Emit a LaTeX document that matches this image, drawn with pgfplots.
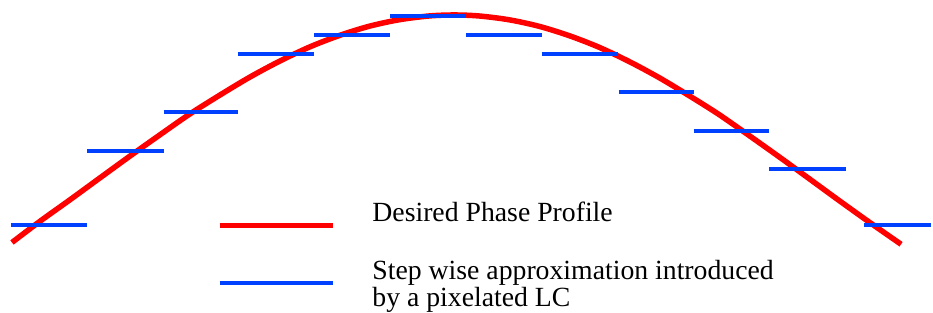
\documentclass[border=0pt]{standalone}
\usepackage{fontspec}
\setmainfont{Liberation Serif}
\newfontfamily\tnr{Liberation Serif}
\usepackage{pgfplots}
\pgfplotsset{compat=1.18}
\definecolor{cred}{RGB}{255,0,0}
\definecolor{cblue}{RGB}{0,64,255}
\begin{document}
\begin{tikzpicture}
\begin{axis}[
  x=1pt, y=1pt, y dir=reverse,
  xmin=0, xmax=933, ymin=0, ymax=313,
  hide axis, clip=false,
  unbounded coords=jump,
]
\addplot[draw=none, forget plot] coordinates {(0,0) (933,313)};
% desired phase profile
\addplot[cred, line width=5.5pt, smooth] coordinates {
(12,243) (40,221.8) (70,200.3) (100,178.4) (130,156.6) (160,135.3) (190,114.4)
(220,95.5) (250,77.5) (280,61.4) (310,47.2) (340,35.6) (370,26.3) (400,19.8)
(430,16.0) (455,15) (480,16.0) (510,19.8) (540,26.3) (570,35.6) (600,47.2)
(630,61.4) (660,77.5) (690,95.5) (720,114.4) (750,135.3) (780,156.6)
(810,178.4) (840,200.3) (870,221.8) (903,244.8)};
% step wise approximation
\addplot[cblue, line width=4pt] table {
x y
11 225
87 225
nan nan
87 151
164 151
nan nan
164 112
239 112
nan nan
239 54
315 54
nan nan
315 35
391 35
nan nan
391 16
467 16
nan nan
467 35
543 35
nan nan
543 54
619 54
nan nan
620 92
695 92
nan nan
695 131
771 131
nan nan
771 169
848 169
nan nan
866 225
933 225
};
% legend samples
\addplot[cred, line width=5.5pt, forget plot] coordinates {(220,226) (334,226)};
\addplot[cblue, line width=4pt, forget plot] coordinates {(220,284) (334,284)};
\node[anchor=base west, inner sep=0pt, font=\tnr\fontsize{27.8}{28}\selectfont] at (axis cs:373,222) {Desired Phase Profile};
\node[anchor=base west, inner sep=0pt, font=\tnr\fontsize{27.8}{28}\selectfont] at (axis cs:373,280) {Step wise approximation introduced};
\node[anchor=base west, inner sep=0pt, font=\tnr\fontsize{27.8}{28}\selectfont] at (axis cs:373,307) {by a pixelated LC};
\end{axis}
\end{tikzpicture}
\end{document}
